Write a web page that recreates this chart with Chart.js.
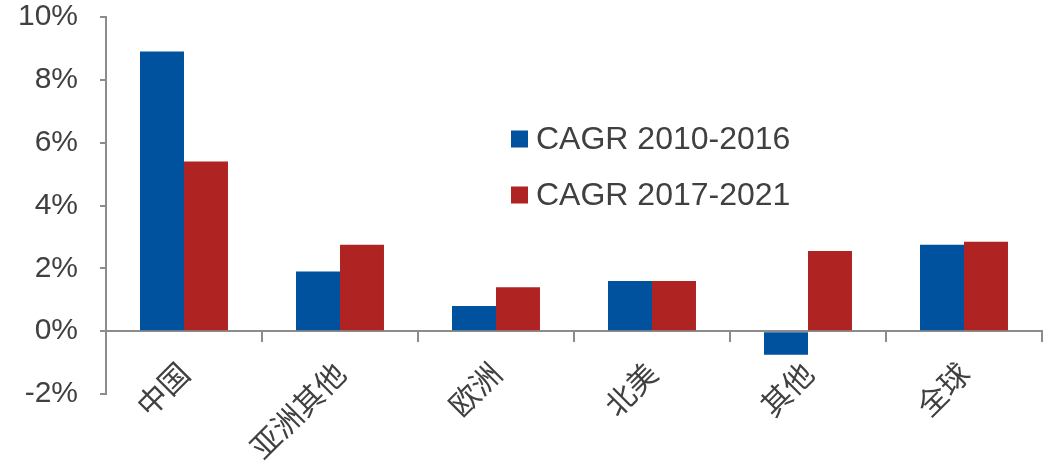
<!DOCTYPE html>
<html>
<head>
<meta charset="utf-8">
<script src="https://cdn.jsdelivr.net/npm/chart.js@4/dist/chart.umd.min.js"></script>
<style>
  html, body { margin: 0; padding: 0; background: #ffffff; }
  #wrap { width: 1051px; height: 466px; position: relative; }
</style>
</head>
<body>
<div id="wrap"><canvas id="c" width="1051" height="466"></canvas></div>
<script>
// Regions and growth rates (%)
const regions = ['中国', '亚洲其他', '欧洲', '北美', '其他', '全球'];
const cagr2010_2016 = [8.9, 1.9, 0.8, 1.6, -0.75, 2.75];
const cagr2017_2021 = [5.4, 2.75, 1.4, 1.6, 2.55, 2.85];
const seriesNames = ['CAGR 2010-2016', 'CAGR 2017-2021'];
const yTicks = [-2, 0, 2, 4, 6, 8, 10];

const BLUE = '#00529E';
const RED = '#B02323';
const AXIS = '#8C8C8C';
const TEXT = '#404040';

// Legend drawn as a vertical list inside the plot area
const boxLegend = {
  id: 'boxLegend',
  afterDraw(chart, args, opts) {
    const ctx = chart.ctx;
    ctx.save();
    ctx.font = opts.font;
    ctx.textBaseline = 'middle';
    ctx.textAlign = 'left';
    chart.data.datasets.forEach((ds, i) => {
      const cy = opts.y + i * opts.rowGap;
      ctx.fillStyle = ds.backgroundColor;
      ctx.fillRect(opts.x, cy - opts.box / 2, opts.box, opts.box);
      ctx.fillStyle = TEXT;
      ctx.fillText(ds.label, opts.x + opts.box + 8, cy + 1);
    });
    ctx.restore();
  }
};

new Chart(document.getElementById('c'), {
  type: 'bar',
  data: {
    labels: regions,
    datasets: [
      { label: seriesNames[0], data: cagr2010_2016, backgroundColor: BLUE },
      { label: seriesNames[1], data: cagr2017_2021, backgroundColor: RED }
    ]
  },
  options: {
    responsive: false,
    animation: false,
    devicePixelRatio: 1,
    categoryPercentage: 0.564,
    barPercentage: 1.0,
    layout: { padding: { top: 17, bottom: 72, right: 9, left: 0 } },
    plugins: {
      legend: { display: false },
      tooltip: { enabled: false },
      boxLegend: { x: 511, y: 139, rowGap: 56, box: 17, font: '32px "Liberation Sans", Arial, sans-serif' }
    },
    scales: {
      x: {
        position: { y: 0 },
        grid: { display: true, drawOnChartArea: false, drawTicks: true, tickLength: 10, color: AXIS, lineWidth: 2, offset: true },
        border: { display: true, color: AXIS, width: 2 },
        ticks: {
          autoSkip: false,
          minRotation: 45,
          maxRotation: 45,
          padding: 14,
          color: TEXT,
          font: { family: '"Noto Sans CJK SC", sans-serif', size: 30 }
        }
      },
      y: {
        min: -2,
        max: 10,
        afterFit(scale) {
          scale.width = 106;
          scale.paddingTop = 0;
          scale.paddingBottom = 0;
        },
        afterBuildTicks(scale) { scale.ticks = yTicks.map(v => ({ value: v })); },
        grid: { display: true, drawOnChartArea: false, drawTicks: true, tickLength: 6, color: AXIS, lineWidth: 2 },
        border: { display: true, color: AXIS, width: 2 },
        ticks: {
          padding: 22,
          color: TEXT,
          font: { family: '"Liberation Sans", Arial, sans-serif', size: 30 },
          callback: (v) => v + '%'
        }
      }
    }
  },
  plugins: [boxLegend]
});
</script>
</body>
</html>
